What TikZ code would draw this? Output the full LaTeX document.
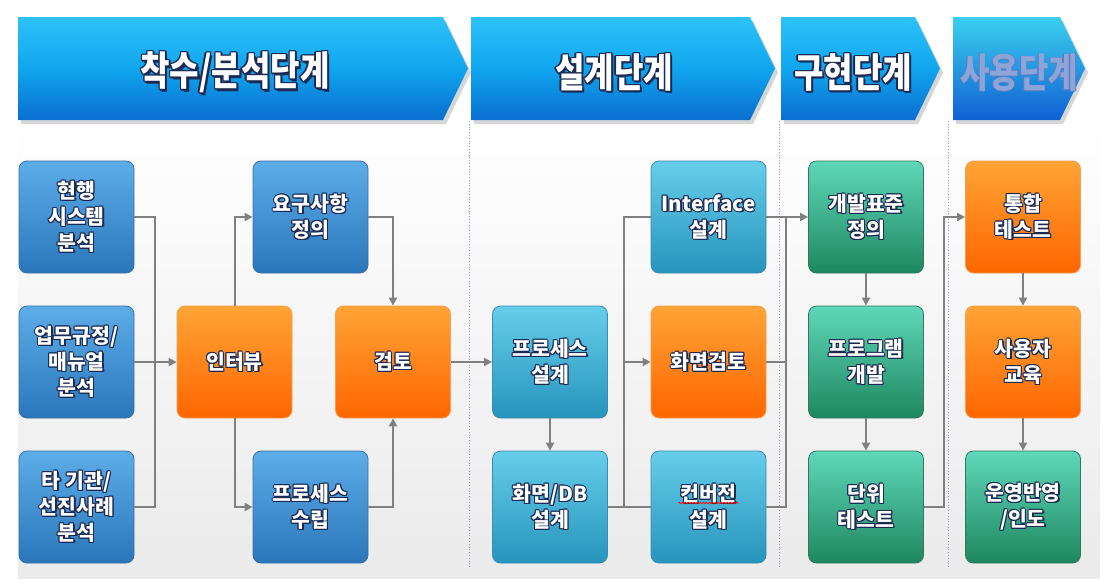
\documentclass[tikz,border=0pt]{standalone}
\usepackage{fontspec}
\setmainfont{Noto Sans CJK KR}
\newfontfamily\hdrfont{Noto Sans CJK KR}[FakeStretch=0.8]
\usetikzlibrary{arrows.meta,decorations.pathmorphing}
\definecolor{txtline}{HTML}{1B2A52}
\definecolor{bxbT}{HTML}{5DADE8}
\definecolor{bxbB}{HTML}{2A76BA}
\definecolor{bxbD}{HTML}{3A70A6}
\definecolor{bxcT}{HTML}{66CEEA}
\definecolor{bxcB}{HTML}{2694BC}
\definecolor{bxcD}{HTML}{3A8CB0}
\definecolor{bxgT}{HTML}{5FD8B8}
\definecolor{bxgB}{HTML}{1E8760}
\definecolor{bxgD}{HTML}{2C7A60}
\definecolor{bxoT}{HTML}{FFA436}
\definecolor{bxoB}{HTML}{FF6600}
\definecolor{bxoD}{HTML}{F4A050}
\definecolor{lncol}{HTML}{808080}
\definecolor{sepcol}{HTML}{8E9CC6}
\definecolor{hdT}{HTML}{2EC2F9}
\definecolor{hdM}{HTML}{10A6EE}
\definecolor{hdB}{HTML}{0A6ED0}
\definecolor{hd4T}{HTML}{3AD0EE}
\definecolor{hd4B}{HTML}{1060D4}
\definecolor{fadetxt}{HTML}{8CA4D8}
\definecolor{fadeln}{HTML}{5E7CC0}
\newcommand\oc[4]{\makebox[0pt][l]{\kern#1\raisebox{#2}{\textcolor{#3}{#4}}}}
\newcommand\ol[1]{\oc{1pt}{0pt}{txtline}{#1}\oc{-1pt}{0pt}{txtline}{#1}\oc{0pt}{1pt}{txtline}{#1}\oc{0pt}{-1pt}{txtline}{#1}\oc{.7pt}{.7pt}{txtline}{#1}\oc{-.7pt}{.7pt}{txtline}{#1}\oc{.7pt}{-.7pt}{txtline}{#1}\oc{-.7pt}{-.7pt}{txtline}{#1}\oc{1.4pt}{-1.4pt}{txtline}{#1}\textcolor{white}{#1}}
\newcommand\hol[1]{\oc{1.5pt}{0pt}{txtline}{#1}\oc{-1.5pt}{0pt}{txtline}{#1}\oc{0pt}{1.5pt}{txtline}{#1}\oc{0pt}{-1.5pt}{txtline}{#1}\oc{1pt}{1pt}{txtline}{#1}\oc{-1pt}{1pt}{txtline}{#1}\oc{1pt}{-1pt}{txtline}{#1}\oc{-1pt}{-1pt}{txtline}{#1}\oc{2.2pt}{-2.2pt}{txtline}{#1}\textcolor{white}{#1}}
\newcommand\fol[1]{\oc{.7pt}{0pt}{fadeln}{#1}\oc{-.7pt}{0pt}{fadeln}{#1}\oc{0pt}{.7pt}{fadeln}{#1}\oc{0pt}{-.7pt}{fadeln}{#1}\textcolor{fadetxt}{#1}}
\begin{document}
\begin{tikzpicture}[x=1pt,y=-1pt,
  box/.style={rounded corners=8pt, minimum width=115pt, minimum height=112pt, line width=0.8pt, align=center, inner sep=0pt, font=\fontsize{20.5}{26}\selectfont\bfseries},
  bluebox/.style={box, top color=bxbT, bottom color=bxbB, draw=bxbD},
  cyanbox/.style={box, top color=bxcT, bottom color=bxcB, draw=bxcD},
  greenbox/.style={box, top color=bxgT, bottom color=bxgB, draw=bxgD},
  orangebox/.style={box, top color=bxoT, bottom color=bxoB, draw=bxoD},
  conn/.style={draw=lncol, line width=2pt},
  arr/.style={conn, -{Triangle[length=8pt,width=8pt]}},
  hdrshade/.style={top color=hdT, bottom color=hdB, middle color=hdM},
  hdrshadow/.style={fill=black!35, opacity=0.45},
  hdrtext/.style={font=\hdrfont\fontsize{40}{44}\selectfont\bfseries, inner sep=0pt},
  sepline/.style={draw=sepcol, line width=0.8pt, dotted}
]
\useasboundingbox (0,0) rectangle (1108,584);
\fill[white] (0,0) rectangle (1108,584);
\shade[top color=white, bottom color=black!8] (18,122) rectangle (1100,578);

% header arrows
\fill[hdrshadow] (21,21) -- (446,21) -- (471,72.5) -- (446,124) -- (21,124) -- cycle;
\shade[hdrshade] (18,17) -- (443,17) -- (468,68.5) -- (443,120) -- (18,120) -- cycle;
\fill[hdrshadow] (474,21) -- (753,21) -- (778,72.5) -- (753,124) -- (474,124) -- cycle;
\shade[hdrshade] (471,17) -- (750,17) -- (775,68.5) -- (750,120) -- (471,120) -- cycle;
\fill[hdrshadow] (784,21) -- (918,21) -- (943,72.5) -- (918,124) -- (784,124) -- cycle;
\shade[hdrshade] (781,17) -- (915,17) -- (940,68.5) -- (915,120) -- (781,120) -- cycle;
\fill[hdrshadow] (956,21) -- (1063,21) -- (1088,72.5) -- (1063,124) -- (956,124) -- cycle;
\shade[top color=hd4T, bottom color=hd4B] (953,17) -- (1060,17) -- (1085,68.5) -- (1060,120) -- (953,120) -- cycle;
\node[hdrtext] (ph1) at (235,73) {\hol{착수/분석단계}};
\node[hdrtext] (ph2) at (614,73) {\hol{설계단계}};
\node[hdrtext] (ph3) at (853,73) {\hol{구현단계}};
\node[hdrtext] (ph4) at (1019,73) {\fol{사용단계}};

% separators
\draw[sepline] (469,121) -- (469,567);
\draw[sepline] (779,121) -- (779,567);
\draw[sepline] (948,121) -- (948,567);

% boxes
\node[bluebox] (a1) at (76.5,217) {\ol{현행}\\\ol{시스템}\\\ol{분석}};
\node[bluebox] (a2) at (76.5,362) {\ol{업무규정/}\\\ol{매뉴얼}\\\ol{분석}};
\node[bluebox] (a3) at (76.5,507) {\ol{타 기관/}\\\ol{선진사례}\\\ol{분석}};
\node[orangebox] (b) at (234.5,362) {\ol{인터뷰}};
\node[bluebox] (c1) at (310.5,217) {\ol{요구사항}\\\ol{정의}};
\node[bluebox] (c2) at (310.5,507) {\ol{프로세스}\\\ol{수립}};
\node[orangebox] (d) at (393,362) {\ol{검토}};
\node[cyanbox] (e1) at (550,362) {\ol{프로세스}\\\ol{설계}};
\node[cyanbox] (e2) at (550,507) {\ol{화면/DB}\\\ol{설계}};
\node[cyanbox] (f1) at (708.5,217) {\ol{Interface}\\\ol{설계}};
\node[orangebox] (f2) at (708.5,362) {\ol{화면검토}};
\node[cyanbox] (f3) at (708.5,507) {\ol{컨버전}\\\ol{설계}};
\node[greenbox] (g1) at (866,217) {\ol{개발표준}\\\ol{정의}};
\node[greenbox] (g2) at (866,362) {\ol{프로그램}\\\ol{개발}};
\node[greenbox] (g3) at (866,507) {\ol{단위}\\\ol{테스트}};
\node[orangebox] (h1) at (1023,217) {\ol{통합}\\\ol{테스트}};
\node[orangebox] (h2) at (1023,362) {\ol{사용자}\\\ol{교육}};
\node[greenbox] (h3) at (1023,507) {\ol{운영반영}\\\ol{/인도}};

% spell-check squiggle
\draw[red, line width=0.7pt, decorate, decoration={snake, amplitude=0.8pt, segment length=3pt}]
  ([shift={(-30,-4)}]f3.center) -- ([shift={(30,-4)}]f3.center);

% junction points
\coordinate (jA) at (155,362);
\coordinate (jD) at (624,362);
\coordinate (jE) at (786,362);
\coordinate (jF) at (944,362);

% connectors
\draw[conn] (a1.east) -| (jA) |- (a3.east);
\draw[arr] (a2.east) -- (b.west);
\draw[arr] (b.north) |- (c1.west);
\draw[arr] (b.south) |- (c2.west);
\draw[arr] (c1.east) -| (d.north);
\draw[arr] (c2.east) -| (d.south);
\draw[arr] (d.east) -- (e1.west);
\draw[arr] (e1.south) -- (e2.north);
\draw[conn] (e2.east) -- (f3.west);
\draw[conn] (f1.west) -| (jD |- e2.east);
\draw[arr] (jD) -- (f2.west);
\draw[arr] (f1.east) -- (g1.west);
\draw[conn] (f2.east) -- (jE);
\draw[conn] (f3.east) -| (jE |- f1.east);
\draw[arr] (g1.south) -- (g2.north);
\draw[arr] (g2.south) -- (g3.north);
\draw[arr] (g3.east) -| (jF) |- (h1.west);
\draw[arr] (h1.south) -- (h2.north);
\draw[arr] (h2.south) -- (h3.north);
\end{tikzpicture}
\end{document}
